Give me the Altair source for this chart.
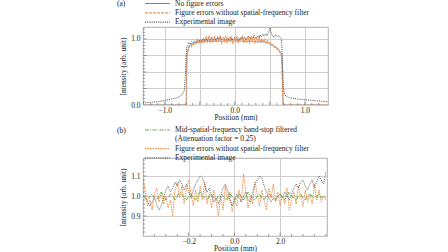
import altair as alt
import numpy as np
import pandas as pd

FONT = "Liberation Serif"

# ---------------- Panel (a) ----------------
A_NAMES = ["No figure errors", "Figure errors without spatial-frequency filter", "Experimental image"]
A_COLORS = ["#4a90d9", "#f5914a", "#444444"]
A_DASH = [[1, 0], [3, 1], [1, 1.2]]
A_WIDTHS = [0.8, 1.2, 1.0]

blue_pos = [-1.31, -0.692, -0.688, -0.68, -0.66, -0.62, -0.5, 0.0, 0.45, 0.55, 0.62, 0.65, 0.67, 0.68, 0.69, 1.33]
blue_val = [0.0, 0.0, 0.5, 0.76, 0.88, 0.93, 0.96, 0.97, 0.95, 0.9, 0.85, 0.8, 0.76, 0.5, 0.0, 0.0]

orange_left_pos = [-1.31, -0.692, -0.688]
orange_left_val = [0.0, 0.0, 0.5]
orange_mid_val = [0.75, 0.84, 0.89, 0.88, 0.93, 0.91, 0.95, 0.92, 0.97, 0.94,
                  0.98, 0.93, 1.00, 0.95, 1.03, 0.96, 1.05, 0.94, 1.01, 0.96,
                  1.04, 0.95, 1.02, 0.97, 1.05, 0.94, 1.00, 0.96, 1.03, 0.95,
                  1.01, 0.97, 1.04, 0.94, 1.00, 0.96, 1.03, 0.95, 1.02, 0.97,
                  1.05, 0.94, 1.01, 0.96, 1.04, 0.95, 1.02, 0.97, 1.05, 0.95,
                  1.01, 0.96, 1.03, 0.94, 1.00, 0.95, 0.99, 0.94, 0.97, 0.92,
                  0.94, 0.90, 0.91, 0.87, 0.88, 0.84, 0.84, 0.79, 0.76]
orange_mid_range = (-0.685, 0.665)
orange_right_pos = [0.675, 0.685, 0.69, 1.33]
orange_right_val = [0.5, 0.1, 0.0, 0.0]

exp_left_pos = [-1.31, -1.2, -1.1, -1.0, -0.9, -0.8, -0.75, -0.72, -0.705, -0.695, -0.685]
exp_left_val = [0.03, 0.04, 0.05, 0.07, 0.09, 0.12, 0.16, 0.22, 0.45, 0.75, 0.88]
exp_mid_val = [0.90, 0.95, 0.92, 0.96, 0.94, 0.97, 0.95, 0.99, 0.96, 0.99,
               0.97, 1.00, 0.98, 1.01, 0.97, 1.00, 0.98, 1.02, 0.99, 1.01,
               0.98, 1.02, 1.00, 1.03, 0.99, 1.02, 1.00, 0.98, 1.01, 0.99,
               1.02, 0.98, 1.00, 1.02, 0.99, 1.01, 0.98, 1.00, 1.03, 1.00,
               1.02, 0.99, 1.01, 1.04, 1.00, 1.03, 1.01, 1.05, 1.02, 1.04,
               1.01, 1.06, 1.03, 1.07, 1.04, 1.08, 1.05, 1.10, 1.17, 1.08,
               1.04, 1.03, 1.06, 1.04, 1.05, 1.02, 1.00]
exp_mid_range = (-0.675, 0.665)
exp_right_pos = [0.675, 0.685, 0.695, 0.71, 0.73, 0.78, 0.9, 1.0, 1.1, 1.2, 1.33]
exp_right_val = [0.80, 0.50, 0.25, 0.17, 0.13, 0.11, 0.09, 0.08, 0.07, 0.06, 0.05]

A_X_DOMAIN = [-1.31, 1.33]
A_Y_DOMAIN = [0.0, 1.18]
A_X_GRID = [-1.0, -0.5, 0.0, 0.5, 1.0]
A_Y_GRID = [0.0, 0.25, 0.5, 0.75, 1.0]
A_X_MINOR = [-1.2, -1.1, -0.9, -0.8, -0.7, -0.6, -0.4, -0.3, -0.2, -0.1, 0.1, 0.2, 0.3, 0.4, 0.6, 0.7, 0.8, 0.9, 1.1, 1.2]
A_Y_MINOR = [0.05, 0.1, 0.15, 0.2, 0.3, 0.35, 0.4, 0.45, 0.55, 0.6, 0.65, 0.7, 0.8, 0.85, 0.9, 0.95, 1.05, 1.1, 1.15]

# ---------------- Panel (b) ----------------
B_NAMES = ["Mid-spatial-frequency band-stop filtered", "(Attenuation factor = 0.25)",
           "Figure errors without spatial-frequency filter", "Experimental image"]
B_COLORS = ["#6aaa3a", "rgba(0,0,0,0)", "#f5914a", "#5a5a5a"]
B_DASH = [[4, 1.2, 1, 1.2], [1, 0], [1.5, 1], [1, 1.2]]
B_WIDTHS = [1.0, 1.0, 1.0]

b_range = (-0.40, 0.40)
b_exp_val = [1.00, 0.99, 0.97, 0.95, 0.97, 0.99, 0.96, 0.93, 0.95, 0.99,
             1.03, 1.05, 1.02, 1.04, 1.07, 1.05, 1.08, 1.06, 1.03, 1.06,
             1.02, 0.99, 1.03, 1.06, 1.08, 1.10, 1.09, 1.06, 1.02, 1.04,
             1.00, 0.97, 0.99, 0.96, 1.00, 1.04, 1.06, 1.03, 0.98, 0.95,
             0.98, 1.01, 0.99, 0.97, 1.00, 1.02, 0.98, 0.97, 1.02, 1.06,
             1.08, 1.10, 1.09, 1.05, 1.02, 0.99, 0.97, 0.99, 0.98, 1.00,
             1.01, 0.99, 1.02, 1.00, 0.98, 1.01, 1.04, 1.06, 1.04, 1.07,
             1.08, 1.05, 1.03, 1.06, 1.08, 1.04, 1.07, 1.10, 1.08, 1.06, 1.12]
b_orange_val = [1.09, 1.02, 0.95, 0.98, 0.93, 1.01, 1.04, 0.97, 1.02, 0.96,
                1.00, 0.94, 0.98, 0.90, 1.03, 1.07, 0.99, 1.05, 0.96, 1.04,
                1.08, 1.01, 0.95, 1.03, 0.97, 1.05, 0.98, 1.07, 0.96, 1.01,
                0.94, 1.03, 0.97, 0.90, 1.00, 0.93, 1.05, 0.98, 1.02, 0.92,
                0.99, 0.95, 1.03, 0.97, 1.11, 1.02, 0.94, 1.00, 0.96, 1.07,
                1.01, 0.95, 1.03, 0.98, 0.93, 1.04, 0.99, 1.06, 0.97, 1.02,
                0.95, 1.00, 0.96, 1.04, 0.93, 0.98, 1.02, 0.96, 1.05, 0.99,
                0.95, 1.03, 0.97, 1.01, 0.96, 1.06, 0.98, 1.03, 0.97, 1.00, 0.98]
b_green_val = [1.00, 0.99, 0.98, 1.00, 1.01, 0.99, 0.98, 1.00, 1.02, 1.00,
               0.98, 0.99, 1.01, 1.00, 0.98, 1.00, 1.02, 1.01, 0.99, 0.98,
               1.00, 1.01, 0.99, 0.98, 1.00, 1.02, 1.00, 0.99, 0.98, 1.00,
               1.01, 0.99, 0.98, 1.00, 1.01, 1.00, 0.98, 0.99, 1.01, 1.00,
               0.98, 0.99, 1.01, 1.00, 0.98, 1.00, 1.02, 1.00, 0.99, 0.98,
               1.00, 1.01, 0.99, 0.98, 1.00, 1.01, 1.00, 0.99, 0.98, 1.00,
               1.01, 0.99, 0.98, 1.00, 1.02, 1.00, 0.99, 0.98, 1.00, 1.01,
               0.99, 0.98, 1.00, 1.01, 1.00, 0.99, 1.00, 1.01, 0.99, 1.00, 0.99]

B_X_DOMAIN = [-0.40, 0.405]
B_Y_DOMAIN = [0.8, 1.19]
B_X_GRID = [-0.2, 0.0, 0.2]
B_X_LABELS = ["\u22120.2", "0.0", "2.0"]
B_Y_GRID = [0.9, 1.0, 1.1]
B_X_MINOR = [-0.35, -0.3, -0.25, -0.15, -0.1, -0.05, 0.05, 0.1, 0.15, 0.25, 0.3, 0.35, 0.4]
B_Y_MINOR = [0.82, 0.84, 0.86, 0.88, 0.92, 0.94, 0.96, 0.98, 1.02, 1.04, 1.06, 1.08, 1.12, 1.14, 1.16, 1.18]

W_A, H_A = 185, 78
W_B, H_B = 184, 78


def series_df(name, pos, val):
    return pd.DataFrame({"pos": pos, "val": val, "series": name})


def grid_series(name, rng, vals):
    return series_df(name, list(np.linspace(rng[0], rng[1], len(vals))), vals)


def label_expr(values, labels):
    parts = []
    for v, l in zip(values, labels):
        parts.append(f"abs(datum.value - ({v})) < 1e-6 ? '{l}'")
    return " : ".join(parts) + " : ''"


def panel(dfs, widths, names, colors, dashes, xdom, ydom, xgrid, xlabels, ygrid, ylabels,
          xminor, yminor, w, h, tag, legend_y):
    color_scale = alt.Scale(domain=names, range=colors)
    dash_scale = alt.Scale(domain=names, range=dashes)
    legend = alt.Legend(orient="none", legendX=1, legendY=legend_y, title=None,
                        symbolType="stroke", symbolSize=620, symbolStrokeWidth=1.2,
                        labelFont=FONT, labelFontSize=7.5, labelColor="#222",
                        rowPadding=1.3, clipHeight=7, labelOffset=4, padding=0, labelLimit=400)
    xs = alt.Scale(domain=xdom, nice=False, zero=False)
    ys = alt.Scale(domain=ydom, nice=False, zero=False)
    xaxis = alt.Axis(values=xgrid, labelExpr=label_expr(xgrid, xlabels), title="Position (mm)",
                     grid=True, gridColor="#cfcfcf", ticks=False, domain=False,
                     labelFont=FONT, labelFontSize=7.5, labelColor="#222", labelPadding=1,
                     titleFont=FONT, titleFontSize=7.5, titleFontWeight="normal", titleColor="#222",
                     titlePadding=0)
    yaxis = alt.Axis(values=ygrid, labelExpr=label_expr(ygrid, ylabels), title="Intensity (arb. unit)",
                     grid=True, gridColor="#cfcfcf", ticks=False, domain=False,
                     labelFont=FONT, labelFontSize=7.5, labelColor="#222", labelPadding=3,
                     titleFont=FONT, titleFontSize=7.5, titleFontWeight="normal", titleColor="#222",
                     titlePadding=3)
    layers = []
    for df, sw in zip(dfs, widths):
        layers.append(alt.Chart(df).mark_line(strokeWidth=sw, clip=True).encode(
            x=alt.X("pos:Q", scale=xs, axis=xaxis),
            y=alt.Y("val:Q", scale=ys, axis=yaxis),
            color=alt.Color("series:N", scale=color_scale, legend=legend),
            strokeDash=alt.StrokeDash("series:N", scale=dash_scale, legend=legend),
            order=alt.Order("pos:Q"),
        ))
    # inward ticks (major + minor)
    xt = pd.DataFrame({"p": xgrid + xminor, "len": [3.5] * len(xgrid) + [2] * len(xminor)})
    yt = pd.DataFrame({"p": ygrid + yminor, "len": [3.5] * len(ygrid) + [2] * len(yminor)})
    xt = xt[(xt.p > xdom[0]) & (xt.p < xdom[1])].copy()
    yt = yt[(yt.p > ydom[0]) & (yt.p < ydom[1])].copy()
    xt["y1"] = h
    xt["y2"] = h - xt["len"]
    yt["x1"] = 0
    yt["x2"] = yt["len"]
    layers.append(alt.Chart(xt).mark_rule(color="#555", strokeWidth=0.6).encode(
        x=alt.X("p:Q", scale=xs, axis=xaxis), y=alt.Y("y1:Q", scale=None), y2="y2:Q"))
    layers.append(alt.Chart(yt).mark_rule(color="#555", strokeWidth=0.6).encode(
        y=alt.Y("p:Q", scale=ys, axis=yaxis), x=alt.X("x1:Q", scale=None), x2="x2:Q"))
    layers.append(alt.Chart(pd.DataFrame({"t": [tag]})).mark_text(
        font=FONT, fontSize=7.5, color="#222", align="left", baseline="middle").encode(
        text="t:N", x=alt.value(-26), y=alt.value(legend_y + 4)))
    return alt.layer(*layers).properties(width=w, height=h)


a_dfs = [
    series_df(A_NAMES[0], blue_pos, blue_val),
    pd.concat([series_df(A_NAMES[1], orange_left_pos, orange_left_val),
               grid_series(A_NAMES[1], orange_mid_range, orange_mid_val),
               series_df(A_NAMES[1], orange_right_pos, orange_right_val)]),
    pd.concat([series_df(A_NAMES[2], exp_left_pos, exp_left_val),
               grid_series(A_NAMES[2], exp_mid_range, exp_mid_val),
               series_df(A_NAMES[2], exp_right_pos, exp_right_val)]),
]
b_dfs = [
    grid_series(B_NAMES[2], b_range, b_orange_val),
    grid_series(B_NAMES[3], b_range, b_exp_val),
    grid_series(B_NAMES[0], b_range, b_green_val),
]

top = panel(a_dfs, A_WIDTHS, A_NAMES, A_COLORS, A_DASH, A_X_DOMAIN, A_Y_DOMAIN,
            A_X_GRID, ["\u22121.0", "", "0.0", "", "1.0"], A_Y_GRID, ["0.0", "", "", "", "1.0"],
            A_X_MINOR, A_Y_MINOR, W_A, H_A, "(a)", -27)
bottom = panel(b_dfs, B_WIDTHS, B_NAMES, B_COLORS, B_DASH, B_X_DOMAIN, B_Y_DOMAIN,
               B_X_GRID, B_X_LABELS, B_Y_GRID, ["0.9", "1.0", "1.1"],
               B_X_MINOR, B_Y_MINOR, W_B, H_B, "(b)", -31.5)

chart = alt.vconcat(top, bottom, spacing=53, bounds="flush").resolve_scale(
    color="independent", strokeDash="independent", x="independent", y="independent"
).configure_view(stroke="#9a9a9a", strokeWidth=0.8).properties(
    padding={"left": 116, "top": -1, "right": 0, "bottom": 0}, background="white")

chart.save("out.html", embed_options={"renderer": "svg", "actions": False})
